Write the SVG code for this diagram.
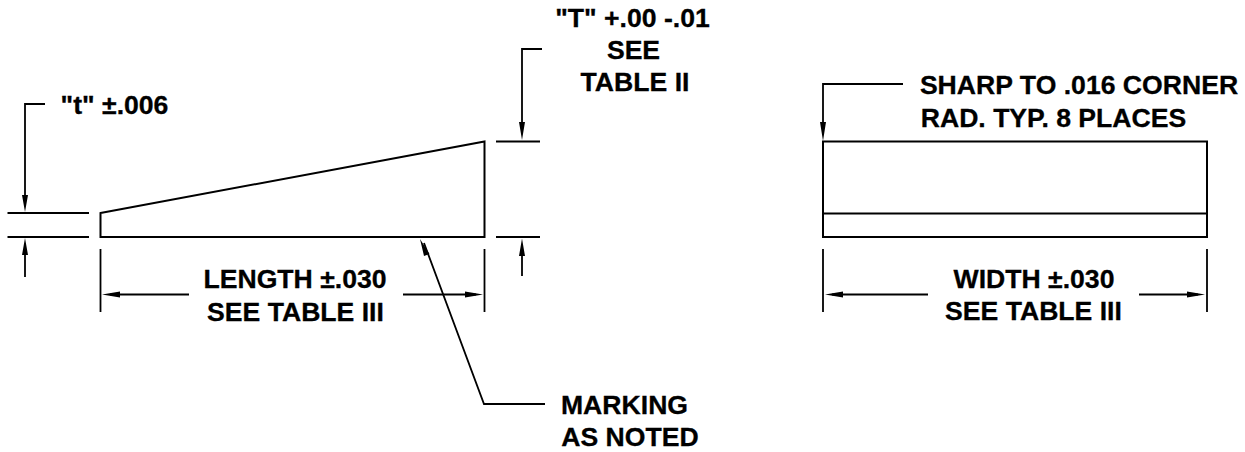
<svg xmlns="http://www.w3.org/2000/svg" width="1245" height="452" viewBox="0 0 1245 452">
<style>
.l{fill:none;stroke:#000;stroke-width:2}
.d{fill:none;stroke:#000;stroke-width:1.8}
.a{fill:#000;stroke:none}
text{font-family:"Liberation Sans",Arial,sans-serif;font-weight:bold;font-size:26.6px;fill:#000;stroke:#000;stroke-width:0.3;text-anchor:middle}
</style>
<rect width="1245" height="452" fill="#fff"/>
<g id="side-view"><path class="l" d="M100.500 213L484.500 141.500V237H100.500Z"/></g>
<g id="front-view"><path class="l" d="M823 141.500H1207V237H823ZM823 213.500H1207"/></g>
<g id="connectors">
<path class="d" d="M7.500 213H89M7.500 237H89M496 141.500H540M496 237H540M100.500 249V312M484.500 249V312M823 249V312M1207 249V312"/>
<path class="d" d="M45 104H25V200M25 248V277M542 49H522V128M522 248V276"/>
<path class="d" d="M110 294.500H189M403 294.500H476M832 294.500H928M1139 294.500H1198"/>
<path class="d" d="M903 84H823V128"/>
<path class="d" d="M545 404H484L424 243"/>
<path class="a" d="M25 212L22 195H28ZM25 238L22 255H28ZM522 140L519 122H525ZM522 238.500L519 256H525ZM102 294.500L120 291.500V297.500ZM483 294.500L465 291.500V297.500ZM825 294.500L843 291.500V297.500ZM1205 294.500L1187 291.500V297.500ZM823 141L820 122H826ZM420 239L429.500 254L424 256Z"/>
</g>
<g id="label-t"><text x="114.500" y="114">"t" ±.006</text></g>
<g id="label-T"><text x="632.500" y="27">"T" +.00 -.01</text><text x="633.500" y="59">SEE</text><text x="635" y="91">TABLE II</text></g>
<g id="label-length"><text x="295" y="288">LENGTH ±.030</text><text x="295.500" y="320.500">SEE TABLE III</text></g>
<g id="label-marking"><text x="624.500" y="414">MARKING</text><text x="630" y="446">AS NOTED</text></g>
<g id="label-corner"><text x="1079" y="94">SHARP TO .016 CORNER</text><text x="1053.500" y="127">RAD. TYP. 8 PLACES</text></g>
<g id="label-width"><text x="1034" y="288">WIDTH ±.030</text><text x="1033.500" y="320">SEE TABLE III</text></g>
</svg>
